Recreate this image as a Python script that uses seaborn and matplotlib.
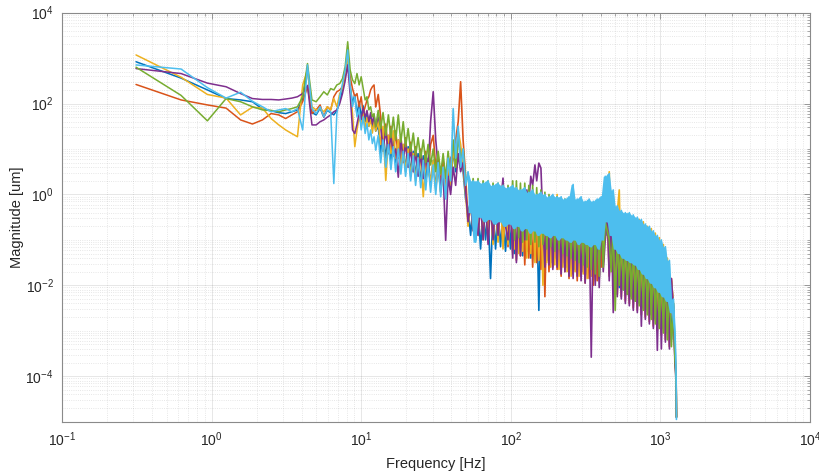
import numpy as np
import pandas as pd
import matplotlib
matplotlib.use("Agg")
import matplotlib.pyplot as plt
import seaborn as sns
from matplotlib.ticker import LogLocator, FixedLocator, NullFormatter, LogFormatterSciNotation

# ---------------- data (log10 of magnitude in um) ----------------
freq_low = [0.3125, 0.625, 0.9375, 1.25, 1.5625, 1.875, 2.1875, 2.5, 2.8125, 3.125,
            3.4375, 3.75, 4.0625, 4.375, 4.6875, 5.0, 5.3125, 5.625, 5.9375, 6.25,
            6.5625, 6.875, 7.1875, 7.5, 7.8125, 8.125, 8.4375, 8.75, 9.0625, 9.375,
            9.6875, 10.0, 10.3125, 10.625, 10.9375, 11.25, 11.5625, 11.875, 12.1875, 12.5]
freq_mid = [13.0, 13.5, 14.0, 14.6, 15.2, 15.8, 16.4, 17.0, 17.7, 18.4,
            19.1, 19.8, 20.6, 21.4, 22.3, 23.1, 24.0, 25.0, 26.0, 27.0,
            28.0, 29.1, 30.3, 31.5, 32.7, 34.0, 35.3, 36.7, 38.1, 39.6,
            41.2, 42.8, 44.5, 46.2, 48.0, 49.9, 51.8, 53.9, 56.0, 58.2,
            60.4, 62.8, 65.3, 67.8, 70.5, 73.2, 76.1, 79.1, 82.2, 85.4,
            88.7, 92.2, 95.8, 99.5]
freq_high = [103, 106, 109, 113, 116, 120, 124, 128, 132, 136,
             140, 145, 149, 154, 159, 164, 169, 174, 180, 185,
             191, 197, 204, 210, 217, 223, 230, 238, 245, 253,
             261, 269, 278, 286, 295, 305, 314, 324, 334, 345,
             356, 367, 378, 390, 402, 415, 428, 441, 455, 469,
             484, 499, 515, 531, 548, 565, 583, 601, 620, 639,
             659, 680, 701, 723, 746, 769, 793, 818, 844, 870,
             897, 925, 954, 984, 1015, 1047, 1080, 1114, 1149, 1185,
             1222, 1250, 1265, 1275, 1280]

blue_low = [2.92, 2.56, 2.30, 2.11, 2.08, 2.04, 1.88, 1.84, 1.80, 1.78,
            1.82, 1.86, 2.10, 2.78, 1.80, 1.75, 1.90, 1.70, 1.85, 1.80,
            1.75, 1.85, 2.05, 2.30, 2.60, 2.96, 2.40, 2.00, 2.20, 1.75,
            2.05, 1.70, 1.95, 1.60, 1.80, 1.50, 1.75, 1.45, 1.65, 1.40]
orange_low = [2.42, 2.08, 1.97, 1.90, 1.64, 1.55, 1.64, 1.78, 1.75, 1.67,
              1.75, 1.82, 2.04, 2.37, 1.78, 1.86, 1.97, 1.71, 1.93, 1.86,
              2.15, 2.26, 2.30, 2.37, 2.66, 3.07, 2.59, 2.33, 2.15, 2.22,
              1.93, 2.15, 1.78, 1.93, 2.08, 2.15, 2.30, 2.37, 2.41, 1.93]
yellow_low = [3.07, 2.58, 2.20, 2.12, 1.75, 1.92, 1.90, 1.67, 1.53, 1.42,
              1.34, 1.27, 2.41, 2.74, 1.93, 1.86, 1.89, 1.82, 1.93, 1.86,
              2.11, 1.93, 2.22, 2.33, 2.66, 3.03, 2.37, 1.78, 1.05, 1.42,
              1.70, 1.55, 1.80, 1.45, 1.70, 1.50, 1.65, 1.35, 1.60, 1.40]
purple_low = [2.77, 2.66, 2.45, 2.37, 2.22, 2.11, 2.09, 2.09, 2.08, 2.10,
              2.12, 2.15, 2.22, 2.40, 1.53, 1.53, 1.60, 1.64, 1.70, 1.75,
              1.82, 1.86, 2.00, 2.22, 2.50, 2.85, 2.20, 1.42, 1.34, 1.55,
              1.80, 1.65, 1.90, 1.70, 1.85, 1.60, 1.80, 1.55, 1.75, 1.50]
green_low = [2.80, 2.18, 1.62, 2.11, 2.04, 1.93, 1.86, 1.85, 1.82, 1.86,
             1.89, 1.93, 2.15, 2.88, 2.08, 2.04, 2.15, 2.26, 2.19, 2.33,
             2.30, 2.41, 2.44, 2.55, 2.81, 3.36, 2.74, 2.52, 2.44, 2.66,
             2.41, 2.59, 2.33, 2.08, 2.15, 1.86, 1.93, 1.71, 1.78, 1.49]
lblue_low = [2.85, 2.76, 2.35, 2.12, 2.25, 2.05, 1.93, 1.82, 1.86, 1.89,
             1.82, 1.89, 1.42, 2.85, 1.89, 1.78, 1.93, 1.71, 1.86, 1.82,
             0.24, 1.78, 2.15, 2.44, 2.74, 3.18, 2.37, 1.93, 2.15, 1.71,
             1.86, 1.42, 1.71, 1.34, 1.56, 1.20, 1.42, 1.12, 1.27, 0.98]

blue_mid = [1.50, 0.90, 1.40, 0.80, 1.30, 0.75, 1.25, 0.70, 1.20, 0.60,
            1.10, 0.55, 1.05, 0.50, 0.95, 0.40, 0.90, 0.30, 0.85, 0.25,
            0.80, 0.20, 0.75, 0.15, 0.70, 0.05, 0.65, 0.00, 0.70, 0.10,
            1.00, 0.50, 1.30, 0.90, 0.50, -0.10, -0.30, -0.90, -0.20, -1.00,
            -0.30, -1.20, -0.30, -1.00, -0.35, -1.85, -0.30, -1.20, -0.35, -1.15,
            -0.40, -1.25, -0.35, -1.20]
orange_mid = [2.20, 1.70, 0.95, 1.55, 0.90, 1.50, 0.85, 1.40, 0.80, 1.30,
              0.70, 1.25, 0.60, 1.15, 0.50, 1.05, 0.45, 1.00, 0.40, 0.95,
              0.45, 1.10, 1.30, 0.60, 0.85, 0.20, 0.75, 0.10, 0.30, 0.80,
              0.90, 1.20, 1.60, 2.48, 1.20, 0.40, -0.60, -0.10, -0.70, 0.00,
              -0.80, -0.10, -0.90, -0.05, -0.85, -0.10, -1.00, -0.15, -0.95, -0.20,
              -1.10, -0.25, -1.15, -0.20]
yellow_mid = [1.60, 1.10, 1.50, 0.31, 1.30, 0.90, 1.40, 0.80, 1.20, 0.60,
              1.10, 0.50, 1.00, 0.40, 0.90, 0.30, 0.80, 0.75, -0.05, 0.80,
              0.50, 0.31, 0.75, 0.10, 0.65, 0.05, 0.60, 0.00, 0.70, 0.20,
              1.00, 0.60, 1.40, 1.10, 0.60, 0.00, -0.70, -0.20, -0.80, -0.10,
              -0.90, -0.15, -1.00, -0.10, -0.95, -0.20, -1.10, -0.15, -1.05, -0.10,
              -1.20, -0.20, -1.10, -0.25]
purple_mid = [1.70, 1.50, 1.00, 1.40, 0.90, 1.30, 0.85, 1.00, 0.38, 1.20,
              0.80, 1.10, 0.60, 1.00, 0.50, 0.95, 0.40, 0.90, 0.35, 0.85,
              0.50, 1.60, 2.26, 1.20, 0.60, 0.20, 0.50, -1.01, 0.40, 0.00,
              0.60, 0.20, 0.90, 0.50, 0.70, 0.10, -0.60, -0.20, -0.80, -0.10,
              -0.90, -0.20, -1.00, -0.15, -1.10, -0.20, -1.00, -0.10, -0.90, -0.20,
              0.36, -0.70, -1.00, -0.20]
green_mid = [1.85, 1.45, 1.80, 1.30, 1.75, 1.25, 1.70, 1.20, 1.75, 1.15,
             1.60, 1.05, 1.45, 0.95, 1.35, 0.85, 1.25, 0.80, 1.20, 0.70,
             1.10, 0.65, 1.00, 0.50, 0.95, 0.45, 0.90, 0.35, 0.95, 0.40,
             1.20, 0.60, 1.30, 0.70, 1.00, 0.30, 0.40, -0.20, 0.35, -0.25,
             0.35, -0.30, 0.30, -0.35, 0.30, -0.40, 0.25, -0.45, 0.25, -0.50,
             0.20, -0.60, 0.20, -0.55]
lblue_mid = [1.30, 0.70, 1.20, 0.60, 1.10, 0.55, 1.05, 0.50, 1.00, 0.45,
             0.95, 0.40, 0.90, 0.30, 0.85, 0.20, 0.80, 0.15, 0.75, 0.10,
             0.70, 0.05, 0.65, 0.00, 0.70, -0.05, 0.60, -0.10, 0.80, 0.30,
             1.89, 0.80, 1.50, 0.60, 1.00, 0.20, 0.50, -0.40, 0.30, -1.05,
             0.30, -0.50, 0.25, -0.60, 0.30, -0.55, 0.20, -0.65, 0.25, -0.60,
             0.20, -0.70, 0.15, -0.65]

blue_high = [-0.10, -1.30, -0.15, -1.20, -0.20, -1.35, -0.15, -1.25, -0.20, -1.40,
             -0.25, -1.30, -0.20, -2.55, -0.25, -1.40, -0.30, -1.45, -0.30, -1.50,
             -0.35, -1.40, -0.35, -1.55, -0.40, -1.50, -0.40, -1.60, -0.45, -1.55,
             -0.45, -1.65, -0.50, -1.60, -0.50, -1.70, -0.55, -1.75, -0.55, -1.70,
             -0.60, -1.80, -0.60, -1.85, -0.60, -1.50, -0.20, -0.90, -0.30, -1.60,
             -0.70, -1.95, -0.75, -2.05, -0.80, -2.10, -0.85, -2.20, -0.90, -2.25,
             -0.95, -2.35, -1.00, -2.40, -1.05, -2.50, -1.10, -2.55, -1.15, -2.65,
             -1.25, -2.75, -1.35, -2.85, -1.45, -2.95, -1.55, -3.05, -1.75, -3.20,
             -2.40, -3.50, -3.80, -4.20, -4.90]
orange_high = [-1.30, -0.20, -1.45, -0.25, -1.35, -0.20, -1.55, -0.30, -1.40, -0.25,
               -1.60, -0.35, -1.50, -0.30, -1.65, -0.35, -2.25, -0.40, -1.70, -0.40,
               -1.60, -0.45, -1.65, -0.45, -1.80, -0.50, -1.70, -0.50, -1.85, -0.55,
               -1.75, -0.55, -1.90, -0.60, -1.80, -0.60, -1.95, -0.65, -1.85, -0.65,
               -2.00, -0.70, -1.90, -0.70, -1.60, -0.70, -1.00, -0.30, -1.80, -0.40,
               -2.10, -0.80, -2.20, -0.85, -2.25, -0.90, -2.35, -0.95, -2.40, -1.00,
               -2.50, -1.05, -2.55, -1.10, -2.65, -1.15, -2.70, -1.20, -2.80, -1.25,
               -2.90, -1.35, -3.00, -1.45, -3.10, -1.55, -3.20, -1.65, -3.35, -1.85,
               -2.50, -3.60, -3.85, -4.25, -4.90]
yellow_high = [-0.10, -1.20, 0.00, -1.30, -0.05, -1.25, 0.10, -1.40, 0.14, -1.30,
               -0.10, -1.50, -0.15, -1.45, -0.20, -2.00, -0.20, -1.50, -0.15, -1.60,
               -0.05, -1.55, 0.00, -1.65, -0.20, -1.60, -0.25, -1.70, -0.30, -1.80,
               -0.30, -1.70, -0.35, -1.80, -0.40, -1.75, -0.40, -1.85, -0.45, -1.80,
               -0.45, -1.90, -0.50, -1.85, -0.40, -1.40, 0.30, -0.50, 0.50, -1.20,
               -0.30, -1.90, -0.40, 0.10, -2.00, -0.45, -2.15, -0.50, -2.20, -0.50,
               -2.30, -0.55, -2.35, -0.55, -2.45, -0.60, -2.50, -0.70, -2.60, -0.75,
               -2.70, -0.85, -2.80, -0.95, -2.90, -1.10, -3.00, -1.40, -3.15, -1.90,
               -2.40, -3.40, -3.70, -4.10, -4.90]
purple_high = [-1.40, -0.10, -1.50, -0.20, -1.35, -0.15, -1.00, 0.10, -0.20, 0.40,
               0.20, 0.65, 0.30, 0.69, 0.58, -0.60, -1.60, -0.10, -1.55, -0.30,
               -1.65, -0.35, -1.60, -0.40, -1.75, -0.45, -1.70, -0.45, -1.80, -0.50,
               -1.85, -0.50, -1.80, -0.55, -1.90, -0.55, -1.95, -0.60, -0.60, -3.58,
               -0.65, -2.00, -0.65, -2.05, -0.60, -1.70, -1.00, -0.30, -1.90, -0.40,
               -2.60, -0.80, -2.25, -0.85, -2.30, -0.90, -2.40, -0.95, -2.45, -1.00,
               -2.55, -1.05, -2.60, -1.10, -2.90, -1.15, -2.75, -1.20, -2.85, -1.25,
               -2.95, -1.35, -3.43, -1.45, -3.40, -1.55, -3.25, -1.65, -3.40, -1.85,
               -2.50, -3.70, -3.95, -4.30, -4.90]
green_high = [0.30, -1.00, 0.30, -0.95, 0.25, -1.05, 0.25, -1.00, 0.20, -1.10,
              0.20, -1.05, 0.15, -1.15, 0.10, -1.10, 0.05, -1.20, 0.00, -1.15,
              -0.05, -1.25, -0.05, -1.20, -0.10, -1.30, -0.10, -1.35, -0.15, -1.40,
              -0.15, -1.45, -0.20, -1.50, -0.20, -1.55, -0.25, -1.60, -0.25, -1.65,
              -0.30, -1.75, -0.30, -1.80, -0.35, -1.60, -0.60, -0.80, -1.00, -1.70,
              -0.70, -2.55, -0.80, -2.00, -0.85, -2.10, -0.90, -2.20, -0.95, -2.30,
              -1.00, -2.35, -1.05, -2.45, -1.10, -2.55, -1.15, -2.65, -1.20, -2.75,
              -1.30, -2.85, -1.40, -2.95, -1.50, -3.05, -1.60, -3.20, -1.80, -3.35,
              -2.40, -3.60, -3.90, -4.30, -4.90]
lblue_high = [0.20, -0.75, 0.15, -0.70, 0.10, -0.80, 0.15, -0.75, 0.05, -0.85,
              0.10, -0.80, 0.00, -0.90, 0.05, -0.85, 0.00, -0.90, -0.05, -0.95,
              0.00, -0.90, -0.05, -1.00, -0.05, -0.95, -0.10, -1.00, -0.05, -1.05,
              0.22, -1.00, -0.10, -1.10, -0.05, -1.05, -0.15, -1.10, -0.10, -1.15,
              -0.15, -1.10, -0.10, -1.20, -0.05, -1.00, 0.40, -0.60, 0.46, -0.90,
              0.10, -1.20, -0.25, -1.30, -0.35, -1.40, -0.40, -1.45, -0.40, -1.50,
              -0.45, -1.55, -0.50, -1.65, -0.55, -1.75, -0.65, -1.85, -0.70, -1.95,
              -0.80, -2.05, -0.90, -2.15, -1.00, -2.25, -1.15, -2.35, -1.45, -2.60,
              -2.30, -3.00, -3.50, -4.20, -4.95]

series_names = ["s1", "s2", "s3", "s4", "s5", "s6"]
series_colors = ["#0072BD", "#D95319", "#EDB120", "#7E2F8E", "#77AC30", "#4DBEEE"]
series_parts = [
    (blue_low, blue_mid, blue_high),
    (orange_low, orange_mid, orange_high),
    (yellow_low, yellow_mid, yellow_high),
    (purple_low, purple_mid, purple_high),
    (green_low, green_mid, green_high),
    (lblue_low, lblue_mid, lblue_high),
]

# low-frequency part (sparse bins) and dense part (shares the boundary bin)
rows_low, rows_dense = [], []
freq_dense = [freq_low[-1]] + freq_mid + freq_high
for name, (lo, mi, hi) in zip(series_names, series_parts):
    assert len(lo) == len(freq_low) and len(mi) == len(freq_mid) and len(hi) == len(freq_high)
    for f, v in zip(freq_low, lo):
        rows_low.append({"series": name, "freq": f, "mag": 10.0 ** v})
    for f, v in zip(freq_dense, [lo[-1]] + mi + hi):
        rows_dense.append({"series": name, "freq": f, "mag": 10.0 ** v})
df_low = pd.DataFrame(rows_low)
df_dense = pd.DataFrame(rows_dense)

# ---------------- style ----------------
sns.set_theme(style="white")
plt.rcParams["font.family"] = ["Liberation Sans", "DejaVu Sans"]
plt.rcParams["mathtext.default"] = "regular"
plt.rcParams["axes.unicode_minus"] = False

text_color = "#262626"
fig = plt.figure(figsize=(8.2, 4.71), dpi=100)
fig.patch.set_facecolor("white")
ax = fig.add_axes([0.0756, 0.1047, 0.9122, 0.8684])
ax.set_facecolor("white")
ax.set_xscale("log")
ax.set_yscale("log")

sns.lineplot(data=df_low, x="freq", y="mag", hue="series", hue_order=series_names,
             palette=series_colors, estimator=None, sort=False, linewidth=1.1,
             legend=False, ax=ax)
sns.lineplot(data=df_dense, x="freq", y="mag", hue="series", hue_order=series_names,
             palette=series_colors, estimator=None, sort=False, linewidth=1.2,
             legend=False, ax=ax)

# the top (light-blue) trace is so dense above ~50 Hz that it reads as a solid band:
# shade the span covered by each of its consecutive line segments
lb = df_dense[(df_dense["series"] == "s6") & (df_dense["freq"] >= 50)]
lb_f = lb["freq"].to_numpy()
lb_m = lb["mag"].to_numpy()
seg_hi = np.maximum(lb_m[:-1], lb_m[1:])
seg_lo = np.minimum(lb_m[:-1], lb_m[1:])
ax.fill_between(lb_f[:-1], seg_lo, seg_hi, color=series_colors[-1], linewidth=0,
                zorder=2.2)

ax.set_xlim(0.1, 1e4)
ax.set_ylim(1e-5, 1e4)

ax.xaxis.set_major_locator(LogLocator(base=10, numticks=20))
ax.xaxis.set_minor_locator(LogLocator(base=10, subs=np.arange(2, 10), numticks=20))
ax.yaxis.set_major_locator(FixedLocator([1e-4, 1e-2, 1e0, 1e2, 1e4]))
ax.yaxis.set_minor_locator(LogLocator(base=10, subs=np.arange(1, 10), numticks=30))
ax.xaxis.set_major_formatter(LogFormatterSciNotation())
ax.yaxis.set_major_formatter(LogFormatterSciNotation())
ax.xaxis.set_minor_formatter(NullFormatter())
ax.yaxis.set_minor_formatter(NullFormatter())

ax.set_axisbelow(True)
ax.grid(which="major", color="#262626", alpha=0.13, linewidth=0.6, linestyle="-")
ax.grid(which="minor", color="#262626", alpha=0.15, linewidth=0.6, linestyle=":")

ax.tick_params(which="both", direction="in", top=True, right=True,
               colors="#8a8a8a", labelcolor=text_color, labelsize=10)
ax.tick_params(which="major", length=4, width=0.6, pad=6)
ax.tick_params(which="minor", length=2, width=0.5)
for sp in ax.spines.values():
    sp.set_color("#8a8a8a")
    sp.set_linewidth(0.8)
    sp.set_visible(True)

ax.set_xlabel("Frequency [Hz]", fontsize=10.5, color=text_color, labelpad=6)
ax.set_ylabel("Magnitude [um]", fontsize=10.5, color=text_color, labelpad=1)

fig.savefig("out.png", dpi=100, facecolor="white")
